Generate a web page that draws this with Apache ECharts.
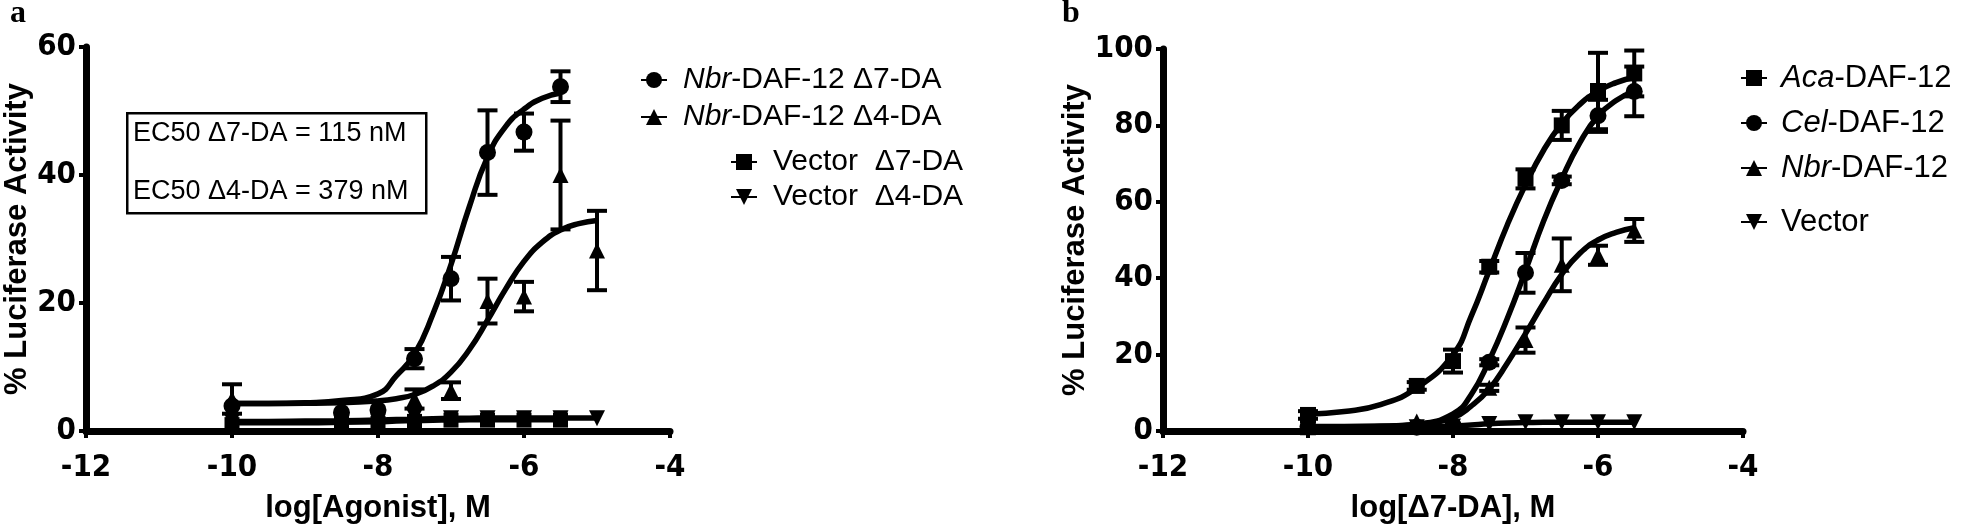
<!DOCTYPE html>
<html><head><meta charset="utf-8">
<script src="https://cdn.jsdelivr.net/npm/echarts@6/dist/echarts.min.js"></script>
<style>html,body{margin:0;padding:0;background:#fff}#c{width:1961px;height:529px}</style>
</head><body><div id="c"></div><script>
// ---------- Panel a data ----------
const xA8 = [-10, -8.5, -8, -7.5, -7, -6.5, -6, -5.5];
const xA9 = [-10, -8.5, -8, -7.5, -7, -6.5, -6, -5.5, -5];
const nbrD7 = [3.9, 2.9, 3.3, 11.3, 23.8, 43.5, 46.7, 53.8];
const nbrD7Err = [0, 0, 0, 1.5, 3.4, 6.6, 2.9, 2.4];
const nbrD4 = [5.0, 2.5, 2.8, 5.0, 6.3, 20.3, 21.0, 40.0, 28.2];
const nbrD4Err = [2.3, 0, 0, 1.5, 1.3, 3.5, 2.3, 8.5, 6.2];
const vecD7 = [1.0, 1.2, 1.2, 1.5, 1.7, 1.7, 1.7, 1.7];
const vecD4 = [1.5, 1.5, 1.5, 2.2, 2.0, 2.0, 2.0, 2.0, 2.0];
// fitted curves
const fitXA7 = [-10, -9.5, -9, -8.5, -8, -7.75, -7.5, -7.25, -7, -6.75, -6.5, -6.25, -6, -5.75, -5.5];
const fitXA4 = [-10, -9.5, -9, -8.5, -8, -7.75, -7.5, -7.25, -7, -6.75, -6.5, -6.25, -6, -5.75, -5.5, -5.25, -5];
const fitNbrD7 = [4.3, 4.3, 4.4, 4.75, 5.8, 8.6, 12.0, 18.2, 26.0, 35.0, 42.8, 47.6, 50.3, 52.0, 52.8];
const fitNbrD4 = [4.3, 4.3, 4.32, 4.4, 4.7, 5.05, 5.7, 7.0, 9.2, 12.7, 17.3, 22.2, 26.5, 29.5, 31.4, 32.4, 32.9];
const fitVecD7 = [1.3, 1.3, 1.3, 1.35, 1.45, 1.55, 1.62, 1.68, 1.72, 1.74, 1.75, 1.75, 1.75, 1.75, 1.75];
const fitVecD4 = [1.5, 1.5, 1.55, 1.6, 1.7, 1.78, 1.85, 1.92, 1.97, 2.0, 2.02, 2.03, 2.04, 2.05, 2.05, 2.05, 2.05];
const namesA = ['Nbr-DAF-12 Δ7-DA', 'Nbr-DAF-12 Δ4-DA', 'Vector  Δ7-DA', 'Vector  Δ4-DA'];
const ec50Lines = ['EC50 Δ7-DA = 115 nM', 'EC50 Δ4-DA = 379 nM'];

// ---------- Panel b data ----------
const xB = [-10, -8.5, -8, -7.5, -7, -6.5, -6, -5.5];
const aca = [4.2, 11.8, 18.3, 43.0, 66.0, 80.0, 89.0, 93.6];
const acaErr = [1.0, 1.0, 3.0, 1.5, 2.5, 3.8, 10.0, 6.0];
const cel = [1.2, 1.0, 1.5, 18.0, 41.4, 65.6, 82.5, 88.9];
const celErr = [0, 0, 0, 0.8, 5.2, 1.0, 4.2, 6.5];
const nbrB = [1.0, 2.5, 2.0, 11.3, 23.8, 43.5, 46.0, 52.5];
const nbrBErr = [0, 0, 0, 0.8, 3.3, 6.9, 2.5, 3.0];
const vecB = [0.3, 1.0, 1.2, 1.8, 2.3, 2.3, 2.3, 2.3];
const fitXB = [-10, -9.5, -9, -8.5, -8, -7.75, -7.5, -7.25, -7, -6.75, -6.5, -6.25, -6, -5.75, -5.5];
const fitAca = [4.4, 5.1, 6.9, 11.3, 20, 30, 42, 54, 64.5, 73.5, 80.5, 85.5, 89, 91.2, 92.6];
const fitCel = [1.2, 1.2, 1.3, 1.8, 4.5, 9.5, 18.5, 29.5, 42, 55, 66, 75.5, 82.5, 86.5, 89];
const fitNbrB = [1.0, 1.0, 1.2, 1.7, 3.5, 6.5, 11.0, 17.8, 25.5, 33.5, 41, 46.5, 50, 52, 53.2];
const fitVecB = [0.6, 0.7, 0.8, 1.0, 1.3, 1.6, 1.9, 2.1, 2.2, 2.3, 2.3, 2.3, 2.3, 2.3, 2.3];
const namesB = ['Aca-DAF-12', 'Cel-DAF-12', 'Nbr-DAF-12', 'Vector'];

const xTitleA = 'log[Agonist], M';
const xTitleB = 'log[Δ7-DA], M';
const yTitle = '% Luciferase Activity';

// ---------- styling ----------
const TICKFONT = '"Liberation Sans Narrow", "DejaVu Sans Condensed", "Liberation Sans", sans-serif';
const SANS = '"Liberation Sans", Arial, sans-serif';
const DOWN = 'path://M0,0 L20,0 L10,18 Z';
const UP = 'path://M10,0 L20,18 L0,18 Z';
const SQ = 'rect';

function pairs(xs, ys) { return xs.map((x, i) => [x, ys[i]]); }

function curve(idx, name, xs, ys, symbol) {
  return {
    type: 'line', name, xAxisIndex: idx, yAxisIndex: idx, data: pairs(xs, ys),
    smooth: 0.5, symbol, symbolSize: 16, showSymbol: false,
    lineStyle: { color: '#000', width: 5.5 }, itemStyle: { color: '#000', opacity: 1 },
    z: 2, silent: true, animation: false
  };
}
function points(idx, name, xs, ys, symbol, size) {
  return {
    type: 'scatter', name, xAxisIndex: idx, yAxisIndex: idx, data: pairs(xs, ys),
    symbol, symbolSize: size || 16, itemStyle: { color: '#000', opacity: 1 }, z: 4, silent: true, animation: false
  };
}
function errs(idx, name, xs, ys, es) {
  const d = [];
  xs.forEach((x, i) => { if (es[i] > 0) d.push([x, ys[i], es[i]]); });
  return {
    type: 'custom', name, xAxisIndex: idx, yAxisIndex: idx, data: d, z: 3, silent: true, animation: false,
    encode: { x: 0, y: 1 },
    renderItem: function (params, api) {
      const x = api.value(0), y = api.value(1), e = api.value(2);
      const t = api.coord([x, y + e]), b = api.coord([x, y - e]);
      const hw = 10, st = { stroke: '#000', lineWidth: 4 };
      return { type: 'group', children: [
        { type: 'line', shape: { x1: t[0], y1: t[1], x2: b[0], y2: b[1] }, style: st },
        { type: 'line', shape: { x1: t[0] - hw, y1: t[1], x2: t[0] + hw, y2: t[1] }, style: st },
        { type: 'line', shape: { x1: b[0] - hw, y1: b[1], x2: b[0] + hw, y2: b[1] }, style: st }
      ] };
    }
  };
}

function xAxisDef(idx, title) {
  return {
    type: 'value', gridIndex: idx, min: -12, max: -4, interval: 2,
    name: title, nameLocation: 'middle', nameGap: 62,
    nameTextStyle: { fontFamily: SANS, fontWeight: 'bold', fontSize: 31, color: '#000' },
    axisLine: { onZero: false, lineStyle: { color: '#000', width: 7 } },
    axisTick: { show: true, length: 7, lineStyle: { color: '#000', width: 4 } },
    axisLabel: { fontFamily: TICKFONT, fontWeight: 'bold', fontSize: 31, color: '#000', margin: 21 },
    splitLine: { show: false }
  };
}
function yAxisDef(idx, max, gap) {
  return {
    type: 'value', gridIndex: idx, min: 0, max: max, interval: 20,
    name: yTitle, nameLocation: 'middle', nameGap: gap, nameRotate: 90,
    nameTextStyle: { fontFamily: SANS, fontWeight: 'bold', fontSize: 31, color: '#000' },
    axisLine: { lineStyle: { color: '#000', width: 7 } },
    axisTick: { show: true, length: 7, lineStyle: { color: '#000', width: 4 } },
    axisLabel: { fontFamily: TICKFONT, fontWeight: 'bold', fontSize: 31, color: '#000', margin: 10 },
    splitLine: { show: false }
  };
}

const italicPrefix = n => {
  const m = n.match(/^(Nbr|Aca|Cel)(.*)$/);
  return m ? '{i|' + m[1] + '}{n|' + m[2] + '}' : '{n|' + n + '}';
};
function legendDef(data, left, top, size, lh, gap, pad) {
  return {
    data, orient: 'vertical', left, top, itemGap: gap, itemWidth: 26, itemHeight: 20,
    selectedMode: false, padding: 0,
    formatter: italicPrefix,
    textStyle: {
      color: '#000', fontFamily: SANS, fontSize: size, lineHeight: lh, padding: [0, 0, 0, pad],
      rich: {
        i: { fontStyle: 'italic', fontFamily: SANS, fontSize: size, lineHeight: lh, color: '#000' },
        n: { fontFamily: SANS, fontSize: size, lineHeight: lh, color: '#000' }
      }
    }
  };
}

const series = [
  curve(0, namesA[0], fitXA7, fitNbrD7, 'circle'),
  curve(0, namesA[1], fitXA4, fitNbrD4, UP),
  curve(0, namesA[2], fitXA7, fitVecD7, SQ),
  curve(0, namesA[3], fitXA4, fitVecD4, DOWN),
  errs(0, 'ea1', xA8, nbrD7, nbrD7Err),
  errs(0, 'ea2', xA9, nbrD4, nbrD4Err),
  points(0, namesA[2], xA8, vecD7, SQ, 15),
  points(0, namesA[3], xA9, vecD4, DOWN, 16),
  points(0, namesA[1], xA9, nbrD4, UP, 16),
  points(0, namesA[0], xA8, nbrD7, 'circle', 17),

  curve(1, namesB[0], fitXB, fitAca, SQ),
  curve(1, namesB[1], fitXB, fitCel, 'circle'),
  curve(1, namesB[2], fitXB, fitNbrB, UP),
  curve(1, namesB[3], fitXB, fitVecB, DOWN),
  errs(1, 'eb1', xB, aca, acaErr),
  errs(1, 'eb2', xB, cel, celErr),
  errs(1, 'eb3', xB, nbrB, nbrBErr),
  points(1, namesB[3], xB, vecB, DOWN, 16),
  points(1, namesB[2], xB, nbrB, UP, 16),
  points(1, namesB[1], xB, cel, 'circle', 17),
  points(1, namesB[0], xB, aca, SQ, 16)
];

const chart = echarts.init(document.getElementById('c'), null, { renderer: 'canvas' });
chart.setOption({
  backgroundColor: '#fff',
  animation: false,
  grid: [
    { left: 86, top: 47, width: 584, height: 386 },
    { left: 1163, top: 49, width: 580, height: 384 }
  ],
  xAxis: [xAxisDef(0, xTitleA), xAxisDef(1, xTitleB)],
  yAxis: [yAxisDef(0, 60, 42), yAxisDef(1, 100, 62)],
  legend: [
    legendDef([namesA[0], namesA[1]], 640, 65, 30, 30, 7, 11),
    legendDef([namesA[2], namesA[3]], 730, 147, 30, 30, 5, 11),
    legendDef([namesB[0], namesB[1], namesB[2]], 1740, 62, 31, 32, 13, 9),
    legendDef([namesB[3]], 1740, 206, 31, 32, 13, 9)
  ],
  graphic: [
    { type: 'text', left: 10, top: -2, style: { text: 'a', font: 'bold 32px "Liberation Serif", serif', fill: '#000' } },
    { type: 'text', left: 1062, top: -2, style: { text: 'b', font: 'bold 32px "Liberation Serif", serif', fill: '#000' } },
    { type: 'rect', left: 126, top: 112, shape: { width: 299, height: 100 }, style: { fill: '#fff', stroke: '#000', lineWidth: 2.5 }, z: 10 },
    { type: 'text', left: 133, top: 120, z: 11, style: { text: ec50Lines[0], font: '27px "Liberation Sans", Arial, sans-serif', fill: '#000' } },
    { type: 'text', left: 133, top: 178, z: 11, style: { text: ec50Lines[1], font: '27px "Liberation Sans", Arial, sans-serif', fill: '#000' } }
  ],
  series
});
</script></body></html>
